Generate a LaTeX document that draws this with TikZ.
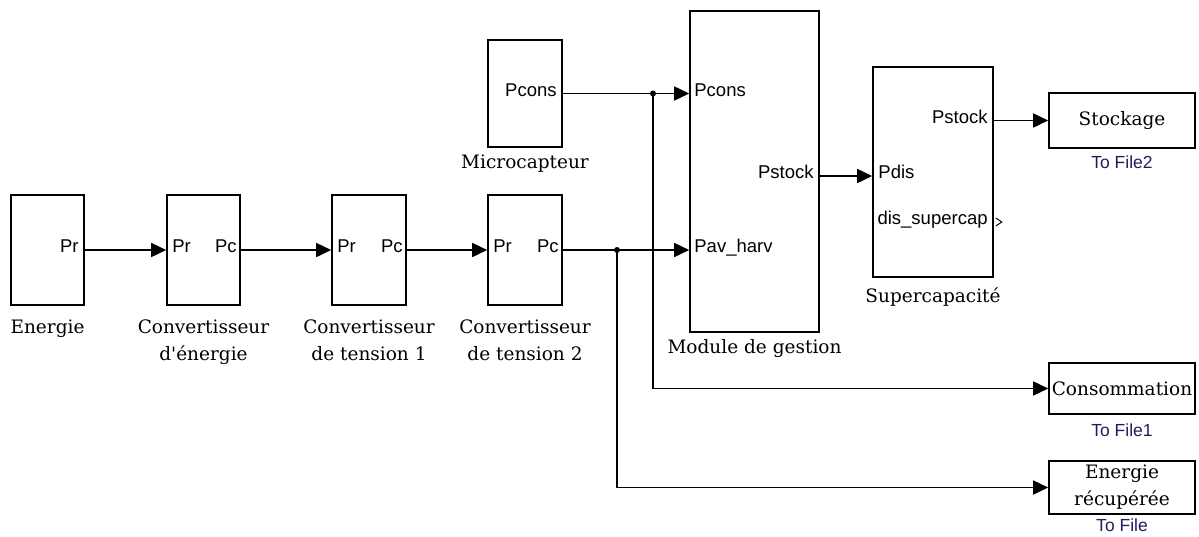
\documentclass[tikz,border=0pt]{standalone}
\usepackage{fontspec}
\setmainfont{DejaVu Serif}
\setsansfont{Liberation Sans}
\usetikzlibrary{arrows.meta,positioning}
\definecolor{tfblue}{RGB}{30,30,90}

\begin{document}
\begin{tikzpicture}[x=1pt,y=-1pt,
  blk/.style={draw,line width=1.6pt,inner sep=0pt},
  sig/.style={line width=1.6pt,-{Triangle[length=15pt,width=14pt]}},
  port/.style={font=\sffamily\fontsize{18.5}{20}\selectfont,inner sep=0pt},
  lbl/.style={font=\fontsize{18.5}{27}\selectfont,inner sep=0pt,align=center},
  tofile/.style={font=\sffamily\fontsize{17.5}{20}\selectfont,text=tfblue,inner sep=0pt}]
  \useasboundingbox (0,0) rectangle (1199,536);
  % blocs
  \node[blk,minimum width=73pt,minimum height=110pt] (ener) at (47.5,250) {};
  \node[blk,minimum width=73pt,minimum height=110pt] (conve) at (203.5,250) {};
  \node[blk,minimum width=74pt,minimum height=110pt] (conv1) at (369,250) {};
  \node[blk,minimum width=74pt,minimum height=110pt] (conv2) at (525,250) {};
  \node[blk,minimum width=74pt,minimum height=107pt] (mic) at (525,93.5) {};
  \node[blk,minimum width=129pt,minimum height=321pt] (mod) at (754.5,171.5) {};
  \node[blk,minimum width=120pt,minimum height=210pt] (sc) at (933,172) {};
  \node[blk,lbl,minimum width=146pt,minimum height=55pt] (stock) at (1122,120.5) {Stockage};
  \node[blk,lbl,minimum width=146pt,minimum height=51pt] (cons) at (1122,388.5) {Consommation};
  \node[blk,lbl,minimum width=146pt,minimum height=53pt] (recup) at (1122,487.5) {Energie\\récupérée};
  % noms des blocs
  \node[lbl,anchor=base] (ener-l) at ([yshift=-28pt]ener.south) {Energie};
  \node[lbl,anchor=base] (conve-l) at ([yshift=-55pt]conve.south) {Convertisseur\\d\textquotesingle énergie};
  \node[lbl,anchor=base] (conv1-l) at ([yshift=-55pt]conv1.south) {Convertisseur\\de tension 1};
  \node[lbl,anchor=base] (conv2-l) at ([yshift=-55pt]conv2.south) {Convertisseur\\de tension 2};
  \node[lbl,anchor=base] (mic-l) at ([yshift=-21pt]mic.south) {Microcapteur};
  \node[lbl,anchor=base] (mod-l) at ([yshift=-21pt]mod.south) {Module de gestion};
  \node[lbl,anchor=base] (sc-l) at ([yshift=-25pt]sc.south) {Supercapacité};
  \node[tofile,anchor=base] (stock-l) at ([yshift=-20pt]stock.south) {To File2};
  \node[tofile,anchor=base] (cons-l) at ([yshift=-22pt]cons.south) {To File1};
  \node[tofile,anchor=base] (recup-l) at ([yshift=-17pt]recup.south) {To File};
  % ports
  \coordinate (mod-pc) at (mod.west |- mic.east);
  \coordinate (mod-pav) at (mod.west |- conv2.east);
  \coordinate (mod-ps) at (mod.east |- 0,176);
  \coordinate (sc-pd) at (sc.west |- mod-ps);
  \coordinate (sc-ps) at (sc.east |- stock.west);
  \coordinate (sc-dis) at (sc.east |- 0,222);
  \node[port,anchor=mid east] at ([xshift=-6pt]ener.east) {Pr};
  \foreach \b in {conve,conv1,conv2} {
    \node[port,anchor=mid west] at ([xshift=6pt]\b.west) {Pr};
    \node[port,anchor=mid east] at ([xshift=-4pt]\b.east) {Pc};
  }
  \node[port,anchor=mid east] at ([xshift=-6pt]mic.east) {Pcons};
  \node[port,anchor=mid west] at ([xshift=5pt]mod-pc) {Pcons};
  \node[port,anchor=mid west] at ([xshift=5pt]mod-pav) {Pav\_harv};
  \node[port,anchor=mid east] at ([xshift=-6pt]mod-ps) {Pstock};
  \node[port,anchor=mid west] at ([xshift=6pt]sc-pd) {Pdis};
  \node[port,anchor=mid east] at ([xshift=-6pt]sc-ps) {Pstock};
  \node[port,anchor=mid east] at ([xshift=-6pt]sc-dis) {dis\_supercap};
  \draw[line width=1pt] ([xshift=2pt]sc-dis) ++(0,-4) -- ++(6,4) -- ++(-6,4);
  % liaisons
  \coordinate (j1) at (617,250);
  \coordinate (j2) at (mic.east -| 653,0);
  \foreach \a/\b in {ener/conve,conve/conv1,conv1/conv2}
    \draw[sig] (\a.east) -- (\b.west);
  \draw[sig] (conv2.east) -- (mod-pav);
  \draw[sig] (mic.east) -- (mod-pc);
  \draw[sig] (j2) |- (cons.west);
  \draw[sig] (j1) |- (recup.west);
  \draw[sig] (mod-ps) -- (sc-pd);
  \draw[sig] (sc-ps) -- (stock.west);
  \fill (j1) circle (3pt) (j2) circle (3pt);
\end{tikzpicture}
\end{document}
